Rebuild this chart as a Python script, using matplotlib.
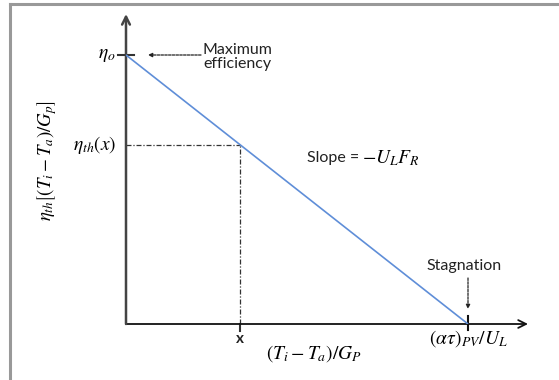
import matplotlib
matplotlib.use("Agg")
import matplotlib.pyplot as plt
from matplotlib.lines import Line2D

plt.rcParams['mathtext.fontset'] = 'stix'

# ---- data (normalised) ----
line_x = [0.0, 1.0]          # (Ti-Ta)/Gp : 0 .. stagnation
line_eff = [1.0, 0.0]        # eta_o .. 0
point_x = 0.333              # operating point x
point_eff = 0.667            # eta_th(x)

W, H = 559, 380
fig = plt.figure(figsize=(W / 100, H / 100), dpi=100)

# axes origin at pixel (126, 324)
ox, oy = 126, 324
sx, sy = 342.0, 269.0
x_end, y_end = 528, 14
ax = fig.add_axes([ox / W, (H - oy) / H, (x_end - ox) / W, (oy - y_end) / H])
ax.set_xlim(0, (x_end - ox) / sx)
ax.set_ylim(0, (oy - y_end) / sy)
ax.axis('off')

def px(x):
    return (x - ox) / sx

def py(y):
    return (oy - y) / sy

# axes arrows
ax.annotate('', xy=(ax.get_xlim()[1], 0), xytext=(0, 0),
            arrowprops=dict(arrowstyle='->', color='#111111', lw=1.3, shrinkA=0, shrinkB=0,
                            mutation_scale=14), annotation_clip=False)
ax.annotate('', xy=(0, ax.get_ylim()[1]), xytext=(0, 0),
            arrowprops=dict(arrowstyle='->', color='#444444', lw=1.8, shrinkA=0, shrinkB=0,
                            mutation_scale=14), annotation_clip=False)

# main line
ax.plot(line_x, line_eff, color='#5f8ed8', lw=1.2, solid_capstyle='butt', zorder=3)

# dash-dot guides
ax.plot([0, point_x], [point_eff, point_eff], color='#333333', lw=0.9, ls=(0, (4, 1.5, 1, 1.5)))
ax.plot([point_x, point_x], [0, point_eff], color='#333333', lw=0.9, ls=(0, (4, 1.5, 1, 1.5)))

# ticks
ax.plot([px(118), px(134)], [line_eff[0], line_eff[0]], color='#333333', lw=1.5, clip_on=False)
ax.plot([point_x, point_x], [0, py(331)], color='#333333', lw=1.5, clip_on=False)
ax.plot([line_x[1], line_x[1]], [py(316), py(330)], color='#111111', lw=1.5, clip_on=False)

# labels on axes
ax.text(px(116), line_eff[0], r'$\eta_o$', ha='right', va='center', fontsize=14)
ax.text(px(116), point_eff, r'$\eta_{th}(x)$', ha='right', va='center', fontsize=14)
ax.text(point_x, py(339), 'x', ha='center', va='center', fontsize=11,
        family='Lato', fontweight='bold', color='#222222')
ax.text(line_x[1], py(339), r'$(\alpha\tau)_{PV}/U_L$', ha='center', va='center', fontsize=14,
        clip_on=False)

# annotations
ax.text(px(203), py(57), 'Maximum\nefficiency', ha='left', va='center', fontsize=11.5,
        family='Lato', linespacing=1.0, color='#222222')
ax.annotate('', xy=(px(148), py(55)), xytext=(px(201), py(55)),
            arrowprops=dict(arrowstyle='-|>', color='#222222', lw=0.9, ls=(0, (2, 1)),
                            mutation_scale=6, shrinkA=0, shrinkB=0))
ax.text(px(464), py(266), 'Stagnation', ha='center', va='center', fontsize=11.5,
        family='Lato', color='#222222')
ax.annotate('', xy=(px(468), py(309)), xytext=(px(468), py(278)),
            arrowprops=dict(arrowstyle='-|>', color='#222222', lw=0.9, ls=(0, (2, 1)),
                            mutation_scale=6, shrinkA=0, shrinkB=0))
ax.text(px(307), py(158), 'Slope =', ha='left', va='center', fontsize=11.5,
        family='Lato', color='#222222')
ax.text(px(362), py(158), r'$-U_LF_R$', ha='left', va='center', fontsize=14)

# axis titles
fig.text(314 / W, 1 - 354 / H, r'$(T_i - T_a)/G_P$', ha='center', va='center', fontsize=14)
fig.text(47 / W, 1 - 161 / H, r'$\eta_{th}\left[(T_i - T_a)/G_p\right]$', ha='center',
         va='center', fontsize=13.5, rotation=90)

# frame border (top & left)
fig.add_artist(Line2D([10 / W, 1], [1 - 4 / H, 1 - 4 / H], color='#999999', lw=2.2,
                      transform=fig.transFigure))
fig.add_artist(Line2D([10 / W, 10 / W], [1 - 4 / H, 0], color='#999999', lw=2.2,
                      transform=fig.transFigure))

fig.savefig('out.png', dpi=100)
